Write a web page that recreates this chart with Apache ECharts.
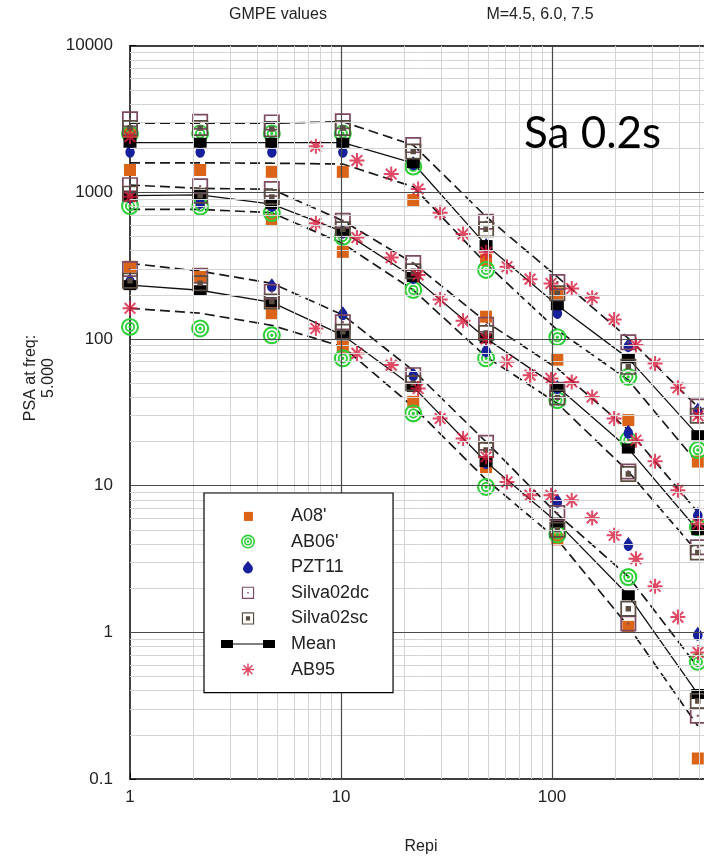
<!DOCTYPE html>
<html>
<head>
<meta charset="utf-8">
<script src="https://cdn.jsdelivr.net/npm/echarts@6/dist/echarts.min.js"></script>
<style>
  html, body { margin: 0; padding: 0; background: #fff; }
  #chart { width: 704px; height: 865px; }
</style>
</head>
<body>
<div id="chart"></div>
<script>
// Epicentral distances (km) where the GMPEs are evaluated
const distances = [1, 2.15, 4.7, 10.2, 22, 48.7, 106, 230, 491];

// A08'
const a08M45 = [311, 265, 150, 88.5, 37.3, 13.4, 4.3, 1.09, 0.138];
const a08M60 = [1420, null, 647, 393, null, 142, 72.3, 28, null];
const a08M75 = [2520, 1420, 1380, 1380, 886, 346, 205, null, 14.6];

// AB06'
const ab06M45 = [121, 118, 106, 73.8, 31.1, 9.8, 4.65, 2.38, 0.63];
const ab06M60 = [807, 800, 723, 498, 216, 73.8, 38.3, 20.4, 5.2];
const ab06M75 = [2500, 2520, 2520, 2520, 1500, 296, 103, 55.2, 17.5];

// PZT11
const pztM45 = [252, 220, 233, 150, 57.5, 14.5, 7.9, 4.0, 0.98];
const pztM60 = [940, 863, 820, 540, 265, 84, 47, 23.3, 6.4];
const pztM75 = [1920, 1920, 1920, 1920, 1580, 437, 153, 90.8, 33];

// Silva02dc
const silvaDcM45 = [300, 270, 210, 130, 56.7, 19.6, 6.5, 1.15, 0.27];
const silvaDcM60 = [1120, 1100, 1054, 640, 330, 125, 45, 12.5, 3.8];
const silvaDcM75 = [3150, 3030, 3000, 3050, 2100, 631, 245, 95, 34.7];

// Silva02sc
const silvaScM45 = [250, 240, 180, 112, 50, 17.5, 5.0, 1.45, 0.34];
const silvaScM60 = [980, 950, 930, 560, 290, 110, 40, 12.0, 3.5];
const silvaScM75 = [2750, 2750, 2700, 2750, 1900, 560, 205, 64.6, 30];

// Mean of the models
const meanM45 = [233, 215, 178, 106, 47.2, 14.5, 5.6, 1.79, 0.38];
const meanM60 = [950, 960, 830, 540, 265, 101, 47.2, 17.9, 4.97];
const meanM75 = [2180, 2180, 2180, 2180, 1580, 437, 170, 73.8, 22.1];

// Upper / lower bounds around the mean
const upperM45 = [328, 290, 240, 146, 61, 19.9, 6.4, 2.4, 0.58];
const upperM60 = [1122, 1064, 1050, 640, 329, 131, 63, 24, 6.6];
const upperM75 = [2960, 2960, 2960, 3030, 2100, 683, 265, 101, 34.5];
const lowerM45 = [162, 150, 124, 88.5, 34.5, 11, 4.3, 1.1, 0.23];
const lowerM60 = [766, 766, 726, 448, 216, 75.7, 36.4, 12.5, 3.5];
const lowerM75 = [1590, 1590, 1580, 1560, 1092, 327, 115, 52.5, 14.2];

// AB95 on its own distance grid
const ab95Distances = [1, 7.6, 11.9, 17.3, 23.2, 29.5, 37.9, 48.7, 61.2, 78.7, 98.9, 124, 155, 197, 250, 308, 395, 492];
const ab95M45 = [162, 118, 79.8, 66.4, 46, 28.7, 21, 15.7, 10.6, 8.6, 8.6, 7.96, 6.03, 4.59, 3.18, 2.06, 1.27, 0.73];
const ab95M60 = [933, 615, 492, 359, 273, 186, 133, 100, 70, 56.7, 53.9, 51, 40.3, 28.7, 20.4, 14.7, 9.3, 5.5];
const ab95M75 = [2400, 2060, 1650, 1333, 1054, 726, 520, 390, 311, 256, 239, 221, 191, 136, 91, 68, 46.5, 30];

// Axis ticks and grid lines
const xTickValues = [1, 2, 3, 4, 5, 6, 7, 8, 9, 10, 20, 30, 40, 50, 60, 70, 80, 90, 100, 200, 300, 400, 500, 600, 700, 800, 900, 1000];
const xLabelValues = [1, 10, 100];
const xLabelTexts = ['1', '10', '100'];
const xMajorLines = [10, 100];
const xMinorLines = [2, 3, 4, 5, 6, 7, 8, 9, 20, 30, 40, 50, 60, 70, 80, 90, 200, 300, 400, 500, 600, 700, 800, 900];
const yTickValues = [0.1, 0.2, 0.3, 0.4, 0.5, 0.6, 0.7, 0.8, 0.9, 1, 2, 3, 4, 5, 6, 7, 8, 9, 10, 20, 30, 40, 50, 60, 70, 80, 90,
  100, 200, 300, 400, 500, 600, 700, 800, 900, 1000, 2000, 3000, 4000, 5000, 6000, 7000, 8000, 9000, 10000];
const yLabelValues = [0.1, 1, 10, 100, 1000, 10000];
const yLabelTexts = ['0.1', '1', '10', '100', '1000', '10000'];
const yMajorLines = [1, 10, 100, 1000];
const yMinorLines = [0.2, 0.3, 0.4, 0.5, 0.6, 0.7, 0.8, 0.9, 2, 3, 4, 5, 6, 7, 8, 9, 20, 30, 40, 50, 60, 70, 80, 90,
  200, 300, 400, 500, 600, 700, 800, 900, 2000, 3000, 4000, 5000, 6000, 7000, 8000, 9000];

const FONT = 'Liberation Sans, Arial, sans-serif';

function pairs(xs, ys) {
  const out = [];
  ys.forEach((y, i) => { if (y != null) out.push([xs[i], y]); });
  return out;
}
function labelFor(values, texts) {
  return v => {
    let best = 0;
    values.forEach((w, i) => { if (Math.abs(Math.log10(w) - Math.log10(v)) < Math.abs(Math.log10(values[best]) - Math.log10(v))) best = i; });
    return texts[best];
  };
}

// Marker shapes
const RING_SYMBOL = 'path://M0,10 A10,10 0 1,1 20,10 A10,10 0 1,1 0,10 Z ' +
  'M2.3,10 A7.7,7.7 0 1,0 17.7,10 A7.7,7.7 0 1,0 2.3,10 Z ' +
  'M4.3,10 A5.7,5.7 0 1,1 15.7,10 A5.7,5.7 0 1,1 4.3,10 Z ' +
  'M6.4,10 A3.6,3.6 0 1,0 13.6,10 A3.6,3.6 0 1,0 6.4,10 Z ' +
  'M8.1,10 A1.9,1.9 0 1,1 11.9,10 A1.9,1.9 0 1,1 8.1,10 Z';
const DROP_SYMBOL = 'path://M6,0 L10.8,5.6 A5.6,5.6 0 1,1 1.2,5.6 Z';
const SILVA_DC_SYMBOL = 'path://M0,0 L14,0 L14,14 L0,14 Z M1.5,1.5 L1.5,12.5 L12.5,12.5 L12.5,1.5 Z M6.1,6.1 L7.9,6.1 L7.9,7.9 L6.1,7.9 Z';
const SILVA_SC_SYMBOL = 'path://M0,0 L14,0 L14,14 L0,14 Z M1.5,1.5 L1.5,12.5 L12.5,12.5 L12.5,1.5 Z M4.6,4.6 L9.4,4.6 L9.4,9.4 L4.6,9.4 Z';
const STAR_SYMBOL = 'path://M7,0 L7,14 M0,7 L14,7 M2,2 L12,12 M12,2 L2,12';

// Legend icons (padded so that each keeps its own size in the 56x14 box)
const ICON_A08 = 'path://M0,-1.5 M0,15.5 M1,2 L12,2 L12,13 L1,13 Z';
const ICON_RING = RING_SYMBOL;
const ICON_DROP = 'path://M-2,-1 M14,15 M6,0 L10.8,5.6 A5.6,5.6 0 1,1 1.2,5.6 Z';
const ICON_DC = 'path://M-1,-1 M15,15 M0,0 L14,0 L14,14 L0,14 Z M1.3,1.3 L1.3,12.7 L12.7,12.7 L12.7,1.3 Z M6.2,6.2 L7.8,6.2 L7.8,7.8 L6.2,7.8 Z';
const ICON_SC = 'path://M-1,-1 M15,15 M0,0 L14,0 L14,14 L0,14 Z M1.3,1.3 L1.3,12.7 L12.7,12.7 L12.7,1.3 Z M4.6,4.6 L9.4,4.6 L9.4,9.4 L4.6,9.4 Z';
const ICON_MEAN = 'path://M0,-2 M54,12 M0,1 L12,1 L12,9 L0,9 Z M12,4.5 L42,4.5 L42,5.5 L12,5.5 Z M42,1 L54,1 L54,9 L42,9 Z';
const ICON_STAR = 'path://M-1,-1 M15,15 M7,0 L7,14 M0,7 L14,7 M2,2 L12,12 M12,2 L2,12';

const COLORS = {
  a08: '#dc6418', ab06: '#2fcf3a', pzt: '#16209a', dc: '#7e4a62', sc: '#5a4c40', mean: '#000000', ab95: '#d81a3c'
};

function scatter(name, symbol, size, color, groups, extra) {
  return Object.assign({
    name, type: 'scatter', symbol, symbolSize: size, symbolKeepAspect: true,
    itemStyle: { color, opacity: 1 },
    data: groups.reduce((acc, g) => acc.concat(pairs(g[0], g[1])), []),
    animation: false, z: 3
  }, extra || {});
}
function boundLine(values) {
  return {
    name: 'bound', type: 'line', data: pairs(distances, values), symbol: 'none', silent: true,
    lineStyle: { color: '#1a1a1a', width: 1.7, type: [10, 5] }, animation: false, z: 2
  };
}
function meanLine(values) {
  return {
    name: 'Mean', type: 'line', data: pairs(distances, values), symbol: 'rect', symbolSize: [13, 10],
    itemStyle: { color: COLORS.mean }, lineStyle: { color: '#111', width: 1.3 },
    animation: false, z: 3
  };
}

const gridLineData = []
  .concat(xMinorLines.map(v => ({ xAxis: v, lineStyle: { color: '#d4d4d4', width: 1 } })))
  .concat(yMinorLines.map(v => ({ yAxis: v, lineStyle: { color: '#d4d4d4', width: 1 } })))
  .concat(xMajorLines.map(v => ({ xAxis: v, lineStyle: { color: '#4a4a4a', width: 1.2 } })))
  .concat(yMajorLines.map(v => ({ yAxis: v, lineStyle: { color: '#4a4a4a', width: 1.2 } })));

const chart = echarts.init(document.getElementById('chart'), null, { renderer: 'canvas' });

chart.setOption({
  backgroundColor: '#ffffff',
  animation: false,
  grid: { left: 130, top: 45.7, width: 633, height: 733.3, containLabel: false, outerBoundsMode: 'none' },
  xAxis: [
    {
      type: 'log', logBase: 10, min: 1, max: 1000, position: 'bottom',
      axisLine: { show: true, lineStyle: { color: '#000', width: 1.5 } },
      axisTick: { show: true, inside: true, length: 6, customValues: xTickValues, lineStyle: { color: '#000', width: 1 } },
      axisLabel: { show: true, customValues: xLabelValues, formatter: labelFor(xLabelValues, xLabelTexts),
        fontSize: 17, fontFamily: FONT, color: '#222', margin: 10 },
      splitLine: { show: false }
    },
    {
      type: 'log', logBase: 10, min: 1, max: 1000, position: 'top',
      axisLine: { show: true, lineStyle: { color: '#000', width: 1.5 } },
      axisTick: { show: true, inside: true, length: 6, customValues: xTickValues, lineStyle: { color: '#000', width: 1 } },
      axisLabel: { show: false },
      splitLine: { show: false }
    }
  ],
  yAxis: [
    {
      type: 'log', logBase: 10, min: 0.1, max: 10000, position: 'left',
      axisLine: { show: true, lineStyle: { color: '#000', width: 1.5 } },
      axisTick: { show: true, inside: true, length: 6, customValues: yTickValues, lineStyle: { color: '#000', width: 1 } },
      axisLabel: { show: true, customValues: yLabelValues, formatter: labelFor(yLabelValues, yLabelTexts),
        fontSize: 17, fontFamily: FONT, color: '#222', margin: 17 },
      splitLine: { show: false }
    }
  ],
  legend: {
    orient: 'vertical', left: 204, top: 493,
    padding: [14, 24, 14, 17],
    backgroundColor: '#ffffff', borderColor: '#000', borderWidth: 1.2,
    itemWidth: 56, itemHeight: 14, itemGap: 7.6,
    selectedMode: false,
    textStyle: { fontSize: 18, fontFamily: FONT, color: '#222', lineHeight: 18, padding: [0, 0, 0, 10] },
    data: [
      { name: "A08'", icon: ICON_A08 },
      { name: "AB06'", icon: ICON_RING },
      { name: 'PZT11', icon: ICON_DROP },
      { name: 'Silva02dc', icon: ICON_DC },
      { name: 'Silva02sc', icon: ICON_SC },
      { name: 'Mean', icon: ICON_MEAN },
      { name: 'AB95', icon: ICON_STAR, itemStyle: { borderWidth: 1.5 } }
    ],
    z: 10
  },
  graphic: [
    { type: 'text', x: 278, y: 15, style: { text: 'GMPE values', font: '16px ' + FONT, fill: '#222',
      align: 'center', verticalAlign: 'middle', textAlign: 'center', textVerticalAlign: 'middle' } },
    { type: 'text', x: 540, y: 15, style: { text: 'M=4.5, 6.0, 7.5', font: '16px ' + FONT, fill: '#222',
      align: 'center', verticalAlign: 'middle', textAlign: 'center', textVerticalAlign: 'middle' } },
    { type: 'text', x: 524, y: 134, z: 20, style: { text: 'Sa 0.2s', font: '44px Lato, Carlito, sans-serif', fill: '#000',
      align: 'left', verticalAlign: 'middle', textAlign: 'left', textVerticalAlign: 'middle' } },
    { type: 'text', x: 421, y: 847, style: { text: 'Repi', font: '16px ' + FONT, fill: '#222',
      align: 'center', verticalAlign: 'middle', textAlign: 'center', textVerticalAlign: 'middle' } },
    { type: 'text', x: 31, y: 378, rotation: Math.PI / 2, style: { text: 'PSA at freq:', font: '16px ' + FONT, fill: '#222',
      align: 'center', verticalAlign: 'middle', textAlign: 'center', textVerticalAlign: 'middle' } },
    { type: 'text', x: 49, y: 378, rotation: Math.PI / 2, style: { text: '5.000', font: '16px ' + FONT, fill: '#222',
      align: 'center', verticalAlign: 'middle', textAlign: 'center', textVerticalAlign: 'middle' } }
  ],
  series: [
    {
      name: 'grid', type: 'line', data: [], silent: true, z: 0, animation: false,
      markLine: { silent: true, symbol: ['none', 'none'], label: { show: false }, animation: false,
        emphasis: { disabled: true }, lineStyle: { type: 'solid' }, data: gridLineData }
    },
    boundLine(upperM45), boundLine(lowerM45),
    boundLine(upperM60), boundLine(lowerM60),
    boundLine(upperM75), boundLine(lowerM75),
    scatter("A08'", 'rect', 12, COLORS.a08, [[distances, a08M45], [distances, a08M60], [distances, a08M75]]),
    scatter("AB06'", RING_SYMBOL, 18, COLORS.ab06, [[distances, ab06M45], [distances, ab06M60], [distances, ab06M75]]),
    scatter('PZT11', DROP_SYMBOL, [12, 14], COLORS.pzt, [[distances, pztM45], [distances, pztM60], [distances, pztM75]]),
    meanLine(meanM45), meanLine(meanM60), meanLine(meanM75),
    scatter('Silva02dc', SILVA_DC_SYMBOL, 16, COLORS.dc, [[distances, silvaDcM45], [distances, silvaDcM60], [distances, silvaDcM75]]),
    scatter('Silva02sc', SILVA_SC_SYMBOL, 16, COLORS.sc, [[distances, silvaScM45], [distances, silvaScM60], [distances, silvaScM75]]),
    scatter('AB95', STAR_SYMBOL, 15, COLORS.ab95,
      [[ab95Distances, ab95M45], [ab95Distances, ab95M60], [ab95Distances, ab95M75]],
      { itemStyle: { color: COLORS.ab95, borderColor: COLORS.ab95, borderWidth: 2 } })
  ]
});
</script>
</body>
</html>
